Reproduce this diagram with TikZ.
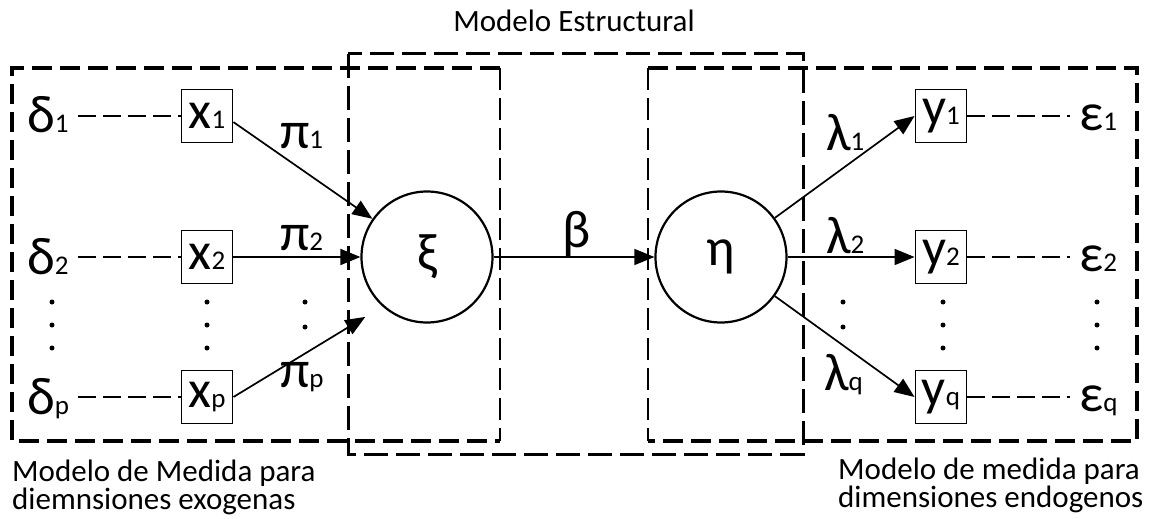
\documentclass[tikz,border=0pt]{standalone}
\usepackage{fontspec}
\setmainfont{Carlito}
\usetikzlibrary{arrows.meta,calc}
\newcommand\symsub[2]{{\fontsize{53}{53}\selectfont #1}{\fontsize{27}{27}\selectfont #2}}
\newcommand\bigsymfont{\fontsize{53}{53}\selectfont}
\newcommand\labfont{\fontsize{31}{28}\selectfont}
\begin{document}
\begin{tikzpicture}[x=1pt,y=-1pt,
 thickdash/.style={line width=3.4pt,dash pattern=on 20pt off 8pt},
 meddash/.style={line width=2.6pt,dash pattern=on 22pt off 8pt},
 thindash/.style={line width=1.6pt,dash pattern=on 18pt off 7pt},
 obs/.style={draw,line width=1.9pt,minimum width=51pt,minimum height=53pt,inner sep=0pt},
 lat/.style={draw,circle,line width=2.2pt,minimum size=131pt,inner sep=0pt,font=\bigsymfont},
 sym/.style={inner xsep=9pt,inner ysep=0pt,anchor=base west},
 coef/.style={inner sep=0pt,anchor=base west},
 arr/.style={line width=1.7pt,-{Triangle[length=20pt,width=16pt]}},
 dotn/.style={circle,fill,inner sep=0pt,minimum size=5pt},
 lab/.style={inner sep=0pt,font=\labfont}
]
\useasboundingbox (0,0) rectangle (1149,519);

% boxes
\draw[thickdash] (500,68) -- (12,68) -- (12,441) -- (500,441);
\draw[meddash] (500,68) -- (500,441);
\draw[thickdash] (648,68) -- (1137,68) -- (1137,441) -- (648,441);
\draw[meddash] (648,68) -- (648,441);
\draw[line width=3pt,dash pattern=on 24pt off 8pt] (348,54) rectangle (803,454);

% observed
\node[obs] (x1) at (207,116) {\symsub{x}{1}};
\node[obs] (x2) at (207,257) {\symsub{x}{2}};
\node[obs] (xp) at (207,397) {\symsub{x}{p}};
\node[obs] (y1) at (941,116) {\symsub{y}{1}};
\node[obs] (y2) at (941,257) {\symsub{y}{2}};
\node[obs] (yq) at (941,397) {\symsub{y}{q}};

% latent
\node[lat] (xi) at (427,257) {ξ};
\node[lat] (eta) at (721,257) {η};

% errors
\node[sym] (d1) at (18,132) {\symsub{δ}{1}};
\node[sym] (d2) at (18,274) {\symsub{δ}{2}};
\node[sym] (dp) at (18,414) {\symsub{δ}{p}};
\node[sym] (e1) at (1070,130) {\symsub{ε}{1}};
\node[sym] (e2) at (1070,271) {\symsub{ε}{2}};
\node[sym] (eq) at (1070,411) {\symsub{ε}{q}};

\draw[thindash] (x1.west -| d1.east) -- (x1.west);
\draw[thindash] (x2.west -| d2.east) -- (x2.west);
\draw[thindash] (xp.west -| dp.east) -- (xp.west);
\draw[thindash] (y1.east) -- (y1.east -| e1.west);
\draw[thindash] (y2.east) -- (y2.east -| e2.west);
\draw[thindash] (yq.east) -- (yq.east -| eq.west);

% arrows
\draw[arr] (x1.-13) -- (xi.145);
\draw[arr] (x2.east) -- (xi.west);
\draw[arr,shorten >=20pt] (xp.east) -- (xi.228);
\draw[arr,line width=1.4pt] (xi.east) -- (eta.west);
\draw[arr] (eta.36) -- (y1.west);
\draw[arr] (eta.east) -- (y2.west);
\draw[arr] (eta.-36) -- (yq.west);

% coefficients
\node[coef] (p1) at (280,148) {\symsub{π}{1}};
\node[coef] (p2) at (280,250) {\symsub{π}{2}};
\node[coef] (pp) at (280,387) {\symsub{π}{p}};
\node[coef] (l1) at (826,150) {\symsub{λ}{1}};
\node[coef] (l2) at (826,253) {\symsub{λ}{2}};
\node[coef] (lq) at (824,390) {\symsub{λ}{q}};
\node[inner sep=0pt,anchor=base,font=\bigsymfont] (b) at (577,247) {β};

% dots
\foreach \x/\n in {52/a,207/b,943/c,1097/d}{
  \foreach \y/\m in {302/1,325/2,348/3}{
    \node[dotn] (dot\n\m) at (\x,\y) {};
  }
}
\foreach \x/\n in {305/e,843/f}{
  \foreach \y/\m in {302/1,327/2}{
    \node[dotn] (dot\n\m) at (\x,\y) {};
  }
}

% labels
\node[lab,anchor=base] (t1) at (574,32) {Modelo Estructural};
\node[lab,anchor=north west,align=left] (t2) at (12,460) {Modelo de Medida para\\diemnsiones exogenas};
\node[lab,anchor=north west,align=left] (t3) at (838,458) {Modelo de medida para\\dimensiones endogenos};
\end{tikzpicture}
\end{document}
